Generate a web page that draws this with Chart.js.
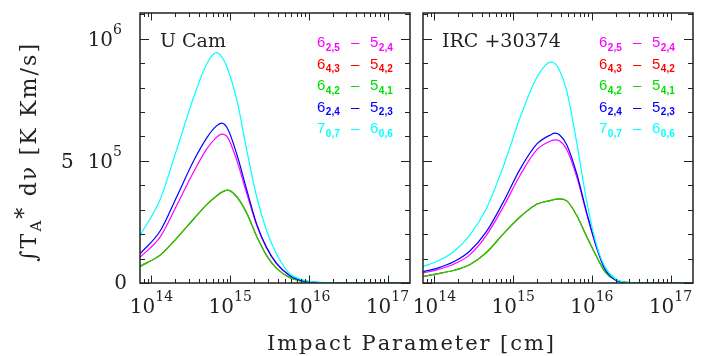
<!DOCTYPE html>
<html lang="en">
<head>
  <meta charset="UTF-8" />
  <title>Impact parameter</title>
  <script src="https://cdn.jsdelivr.net/npm/chart.js"></script>
  <style>
    body {
      margin: 0;
      background: #ffffff;
      overflow: hidden;
    }
    .wrap {
      position: relative;
      width: 706px;
      height: 356px;
    }
    .wrap canvas {
      position: absolute;
      left: 0;
      top: 0;
    }
  </style>
</head>
<body>
  <div class="wrap">
    <canvas id="uCamCanvas" width="706" height="356"></canvas>
    <canvas id="ircCanvas" width="706" height="356"></canvas>
  </div>

  <script>
    // impact parameter [cm] and integrated intensity [K km/s]
    const impactUCam = [7.15e13, 1.30e14, 2.11e14, 3.44e14, 5.07e14, 6.65e14, 7.85e14, 9.33e14, 1.22e15, 1.63e15,
                        2.18e15, 2.91e15, 3.89e15, 5.75e15, 7.76e15, 1.02e16, 1.58e16, 3.16e16, 2.0e17];
    const uCam625 = [1.05e5, 1.90e5, 3.20e5, 4.55e5, 5.50e5, 5.95e5, 6.09e5, 5.95e5, 5.00e5, 3.65e5,
                     2.35e5, 1.42e5, 0.78e5, 0.30e5, 0.12e5, 0.05e5, 0.01e5, 0, 0];
    const uCam643 = [0.68e5, 1.15e5, 1.85e5, 2.62e5, 3.22e5, 3.55e5, 3.72e5, 3.80e5, 3.52e5, 2.85e5,
                     1.90e5, 1.12e5, 0.60e5, 0.22e5, 0.09e5, 0.04e5, 0.01e5, 0, 0];
    const uCam642 = [0.68e5, 1.15e5, 1.85e5, 2.62e5, 3.22e5, 3.55e5, 3.72e5, 3.80e5, 3.52e5, 2.85e5,
                     1.90e5, 1.12e5, 0.60e5, 0.22e5, 0.09e5, 0.04e5, 0.01e5, 0, 0];
    const uCam624 = [1.19e5, 2.15e5, 3.55e5, 5.00e5, 5.95e5, 6.42e5, 6.54e5, 6.30e5, 5.25e5, 3.80e5,
                     2.40e5, 1.45e5, 0.80e5, 0.30e5, 0.12e5, 0.05e5, 0.01e5, 0, 0];
    const uCam707 = [1.94e5, 3.45e5, 5.50e5, 7.60e5, 8.98e5, 9.43e5, 9.25e5, 8.75e5, 7.47e5, 5.42e5,
                     3.51e5, 2.14e5, 1.19e5, 0.37e5, 0.16e5, 0.07e5, 0.02e5, 0, 0];

    const impactIrc = [7.15e13, 1.07e14, 1.78e14, 2.80e14, 4.57e14, 7.46e14, 1.22e15, 1.99e15, 3.02e15, 3.41e15,
                       3.87e15, 4.81e15, 6.46e15, 8.65e15, 1.16e16, 1.48e16, 2.00e16, 2.69e16, 5.0e16, 2.0e17];
    const irc625 = [0.41e5, 0.54e5, 0.78e5, 1.15e5, 1.95e5, 3.10e5, 4.40e5, 5.45e5, 5.82e5, 5.86e5,
                    5.82e5, 5.45e5, 4.32e5, 2.80e5, 1.40e5, 0.53e5, 0.12e5, 0.02e5, 0, 0];
    const irc643 = [0.27e5, 0.37e5, 0.52e5, 0.75e5, 1.25e5, 2.00e5, 2.70e5, 3.22e5, 3.38e5, 3.42e5,
                    3.44e5, 3.36e5, 2.75e5, 1.88e5, 1.05e5, 0.45e5, 0.12e5, 0.03e5, 0, 0];
    const irc642 = [0.27e5, 0.37e5, 0.52e5, 0.75e5, 1.25e5, 2.00e5, 2.70e5, 3.22e5, 3.38e5, 3.42e5,
                    3.44e5, 3.36e5, 2.75e5, 1.88e5, 1.05e5, 0.45e5, 0.12e5, 0.03e5, 0, 0];
    const irc624 = [0.46e5, 0.60e5, 0.88e5, 1.30e5, 2.10e5, 3.30e5, 4.65e5, 5.68e5, 6.07e5, 6.13e5,
                    6.07e5, 5.65e5, 4.45e5, 2.85e5, 1.42e5, 0.55e5, 0.12e5, 0.02e5, 0, 0];
    const irc707 = [0.68e5, 0.88e5, 1.30e5, 1.95e5, 3.05e5, 4.75e5, 6.75e5, 8.40e5, 9.04e5, 8.98e5,
                    8.72e5, 7.85e5, 5.70e5, 3.30e5, 1.50e5, 0.64e5, 0.16e5, 0.03e5, 0, 0];

    // transitions, in legend order
    const upperLevel = ['6', '6', '6', '6', '7'];
    const upperSub = ['2,5', '4,3', '4,2', '2,4', '0,7'];
    const lowerLevel = ['5', '5', '5', '5', '6'];
    const lowerSub = ['2,4', '4,2', '4,1', '2,3', '0,6'];
    const lineColors = ['#ff00ff', '#ff0000', '#00e000', '#0000ff', '#00ffff'];

    const xTickExponents = [14, 15, 16, 17];
    const X_MIN = 7.15e13;
    const X_MAX = 1.93e17;
    const Y_MAX = 1.105e6;

    const SERIF = '"DejaVu Serif", serif';
    const SANS = '"Liberation Sans", Arial, sans-serif';

    // draw text char by char with extra spacing, returns end x
    function drawSpaced(ctx, text, x, y, spacing) {
      for (const ch of text) {
        ctx.fillText(ch, x, y);
        x += ctx.measureText(ch).width + spacing;
      }
      return x;
    }

    function drawPower(ctx, base, exp, x, y, align) {
      ctx.font = '20px ' + SERIF;
      const wb = ctx.measureText(base).width;
      ctx.font = '14px ' + SERIF;
      const we = ctx.measureText(exp).width;
      let start = x;
      if (align === 'center') start = x - (wb + we) / 2;
      if (align === 'right') start = x - (wb + we);
      ctx.font = '20px ' + SERIF;
      ctx.fillText(base, start, y);
      ctx.font = '14px ' + SERIF;
      ctx.fillText(exp, start + wb, y - 12);
      return start;
    }

    const framePlugin = {
      id: 'frame',
      afterDraw(chart, args, opts) {
        const { ctx, chartArea: a, scales: { x, y } } = chart;
        ctx.save();
        ctx.strokeStyle = '#222';
        ctx.fillStyle = '#222';
        ctx.lineWidth = 1;
        ctx.beginPath();
        // x ticks, top and bottom
        for (let d = 13; d <= 17; d++) {
          for (let m = 1; m <= 9; m++) {
            const v = m * Math.pow(10, d);
            if (v < X_MIN || v > X_MAX) continue;
            const px = Math.round(x.getPixelForValue(v)) + 0.5;
            const len = m === 1 ? 7.5 : 4;
            ctx.moveTo(px, a.bottom); ctx.lineTo(px, a.bottom - len);
            ctx.moveTo(px, a.top); ctx.lineTo(px, a.top + len);
          }
        }
        // y ticks, left and right
        for (let k = 0; k <= 11; k++) {
          const v = k * 1e5;
          if (v > Y_MAX) continue;
          const py = Math.round(y.getPixelForValue(v)) + 0.5;
          const len = k % 5 === 0 ? 9 : 5;
          ctx.moveTo(a.left, py); ctx.lineTo(a.left + len, py);
          ctx.moveTo(a.right, py); ctx.lineTo(a.right - len, py);
        }
        ctx.stroke();
        ctx.lineWidth = 1.5;
        ctx.strokeRect(a.left, a.top, a.right - a.left, a.bottom - a.top);

        // x tick labels
        ctx.textBaseline = 'alphabetic';
        ctx.textAlign = 'left';
        xTickExponents.forEach(e => {
          drawPower(ctx, '10', String(e), x.getPixelForValue(Math.pow(10, e)), 313, 'center');
        });

        // source name
        ctx.font = '19px ' + SERIF;
        ctx.fillText(opts.name, a.left + opts.nameDx, 47);

        // legend
        upperLevel.forEach((lvl, i) => {
          const by = 47 + i * 21.6;
          const lx = a.right - opts.legendDx;
          ctx.fillStyle = lineColors[i];
          ctx.font = '15px ' + SANS;
          ctx.fillText(lvl, lx, by);
          let w = ctx.measureText(lvl).width;
          ctx.font = 'bold 10px ' + SANS;
          ctx.fillText(upperSub[i], lx + w + 0.5, by + 3.5);
          ctx.font = '15px ' + SANS;
          ctx.fillText('\u2013', lx + 34, by);
          ctx.fillText(lowerLevel[i], lx + 53, by);
          w = ctx.measureText(lowerLevel[i]).width;
          ctx.font = 'bold 10px ' + SANS;
          ctx.fillText(lowerSub[i], lx + 53 + w + 0.5, by + 3.5);
        });
        ctx.fillStyle = '#222';

        if (opts.axisTitles) {
          // y tick labels
          drawPower(ctx, '10', '6', 122, y.getPixelForValue(1e6) + 7, 'right');
          const s = drawPower(ctx, '10', '5', 122, y.getPixelForValue(5e5) + 7, 'right');
          ctx.font = '20px ' + SERIF;
          ctx.textAlign = 'right';
          ctx.fillText('5', s - 14, y.getPixelForValue(5e5) + 7);
          ctx.fillText('0', 127, y.getPixelForValue(0) + 6);
          ctx.textAlign = 'left';

          // x title
          ctx.font = '21px ' + SERIF;
          const xt = 'Impact Parameter [cm]';
          const xsp = (286 - ctx.measureText(xt).width) / (xt.length - 1);
          drawSpaced(ctx, xt, 267, 350, xsp);

          // y title, rotated
          ctx.save();
          ctx.translate(36, 153);
          ctx.rotate(-Math.PI / 2);
          const pieces = [
            { t: '\u222BT', f: '22px ' + SERIF, dy: 0 },
            { t: 'A', f: '15px ' + SERIF, dy: 5 },
            { t: '*', f: '22px ' + SERIF, dy: -5 },
            { t: ' d\u03BD [K Km/s]', f: '22px ' + SERIF, dy: 0 }
          ];
          let natural = 0, count = 0;
          pieces.forEach(p => { ctx.font = p.f; natural += ctx.measureText(p.t).width; count += [...p.t].length; });
          const ysp = (218 - natural) / (count - 1);
          let cx = -109;
          pieces.forEach(p => {
            ctx.font = p.f;
            cx = drawSpaced(ctx, p.t, cx, p.dy, ysp);
          });
          ctx.restore();
        }
        ctx.restore();
      }
    };

    function buildDatasets(impact, seriesList) {
      return seriesList.map((vals, i) => ({
        data: impact.map((xv, j) => ({ x: xv, y: vals[j] })),
        borderColor: lineColors[i],
        borderWidth: 1.2,
        pointRadius: 0,
        fill: false,
        cubicInterpolationMode: 'monotone',
        order: 5 - i
      }));
    }

    function makeChart(canvasId, impact, seriesList, padding, frameOpts) {
      return new Chart(document.getElementById(canvasId), {
        type: 'line',
        data: { datasets: buildDatasets(impact, seriesList) },
        options: {
          responsive: false,
          animation: false,
          events: [],
          layout: { padding: padding },
          scales: {
            x: { type: 'logarithmic', min: X_MIN, max: X_MAX, display: false },
            y: { type: 'linear', min: 0, max: Y_MAX, display: false }
          },
          plugins: {
            legend: { display: false },
            tooltip: { enabled: false },
            frame: frameOpts
          }
        },
        plugins: [framePlugin]
      });
    }

    makeChart('uCamCanvas', impactUCam, [uCam625, uCam643, uCam642, uCam624, uCam707],
      { left: 140, right: 296, top: 13, bottom: 73 },
      { name: 'U Cam', nameDx: 20, legendDx: 93, axisTitles: true });

    makeChart('ircCanvas', impactIrc, [irc625, irc643, irc642, irc624, irc707],
      { left: 423, right: 13, top: 13, bottom: 73 },
      { name: 'IRC +30374', nameDx: 19, legendDx: 94, axisTitles: false });
  </script>
</body>
</html>
